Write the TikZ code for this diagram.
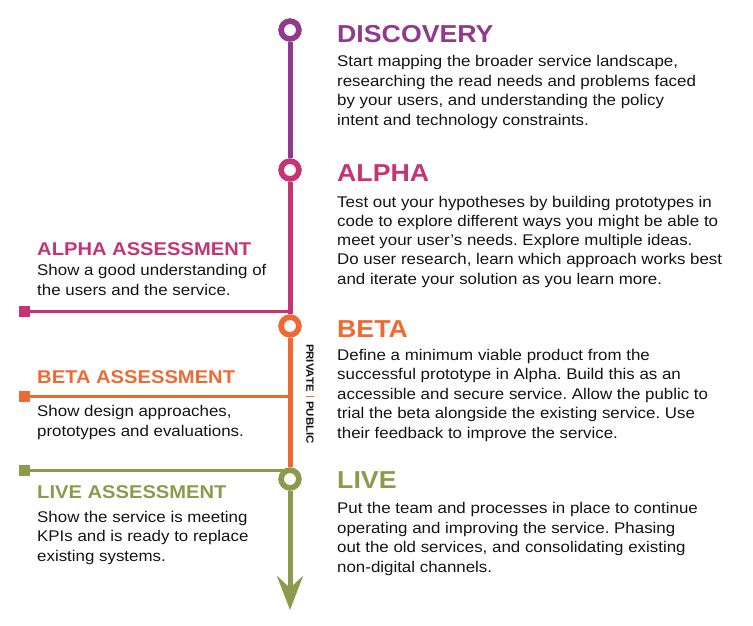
\documentclass[tikz,border=0pt]{standalone}
\usepackage{fontspec}
\setmainfont{Liberation Sans}[FakeStretch=1.09]
\usetikzlibrary{arrows.meta}
\frenchspacing

\definecolor{discC}{HTML}{8F3A8C}
\definecolor{alphaC}{HTML}{C73475}
\definecolor{betaC}{HTML}{EF6A32}
\definecolor{liveC}{HTML}{8C9B4B}
\definecolor{inkC}{HTML}{141414}

\tikzset{
  stage/.style={circle, draw=#1, fill=white, line width=5.5pt,
    minimum size=17.6pt, inner sep=0pt},
  gate/.style={rectangle, fill=#1, minimum size=11pt, inner sep=0pt},
  spine/.style={line width=5pt, draw=#1},
  branch/.style={line width=3pt, draw=#1},
  phasehead/.style={anchor=base west, inner sep=0pt, text=#1,
    font=\fontsize{24.5}{24.5}\selectfont\bfseries},
  gatehead/.style={anchor=base west, inner sep=0pt, text=#1,
    font=\fontsize{18.5}{18.5}\selectfont\bfseries},
  % multi-line blurbs are placed by the baseline of their last line
  blurb/.style={anchor=base west, inner sep=0pt, align=left, text=inkC,
    font=\fontsize{15.5}{19.5}\selectfont},
}

\begin{document}
\begin{tikzpicture}[x=1pt, y=-1pt]
\useasboundingbox (0,0) rectangle (753,625);

% stage markers on the timeline
\node[stage=discC]  (disc)  at (290,30)  {};
\node[stage=alphaC] (alpha) at (290,170) {};
\node[stage=betaC]  (beta)  at (290,326) {};
\node[stage=liveC]  (live)  at (290,479) {};
\coordinate (tip) at (290,610);

% joints where the assessment branches meet the timeline
\coordinate (jA) at (290,311);
\coordinate (jB) at (290,396);
\coordinate (jL) at (290,470);

% assessment gates
\node[gate=alphaC] (gA) at (24,311) {};
\node[gate=betaC]  (gB) at (24,396) {};
\node[gate=liveC]  (gL) at (24,470) {};

% timeline segments
\draw[spine=discC]  (disc) -- (alpha);
\draw[spine=alphaC] (alpha) -- (beta);
\draw[spine=betaC]  (beta) -- (live);
\draw[spine=liveC, -{Stealth[length=34pt, width=26pt, inset=12pt]}] (live) -- (tip);

% assessment branches
\draw[branch=alphaC] (gA) -- (jA);
\draw[branch=betaC]  (gB) -- (jB);
\draw[branch=liveC]  (gL) -- (jL);

% redraw markers above the segments
\node[stage=discC]  at (disc)  {};
\node[stage=alphaC] at (alpha) {};
\node[stage=betaC]  at (beta)  {};
\node[stage=liveC]  at (live)  {};

% phase descriptions
\node[phasehead=discC] (tDisc) at (337,42) {DISCOVERY};
\node[blurb] (bDisc) at (337,125) {Start mapping the broader service landscape,\\
researching the read needs and problems faced\\
by your users, and understanding the policy\\
intent and technology constraints.};

\node[phasehead=alphaC] (tAlpha) at (337,181) {ALPHA};
\node[blurb, font=\fontsize{15.5}{19.2}\selectfont] (bAlpha) at (337,284) {Test out your hypotheses by building prototypes in\\
code to explore different ways you might be able to\\
meet your user’s needs. Explore multiple ideas.\\
Do user research, learn which approach works best\\
and iterate your solution as you learn more.};

\node[phasehead=betaC] (tBeta) at (337,337) {BETA};
\node[blurb] (bBeta) at (337,438) {Define a minimum viable product from the\\
successful prototype in Alpha. Build this as an\\
accessible and secure service. Allow the public to\\
trial the beta alongside the existing service. Use\\
their feedback to improve the service.};

\node[phasehead=liveC] (tLive) at (337,488) {LIVE};
\node[blurb] (bLive) at (337,572) {Put the team and processes in place to continue\\
operating and improving the service. Phasing\\
out the old services, and consolidating existing\\
non-digital channels.};

% assessment descriptions
\node[gatehead=alphaC] (tgA) at (37,255) {ALPHA ASSESSMENT};
\node[blurb] (bgA) at (37,295) {Show a good understanding of\\
the users and the service.};

\node[gatehead=betaC] (tgB) at (37,383) {BETA ASSESSMENT};
\node[blurb] (bgB) at (37,436) {Show design approaches,\\
prototypes and evaluations.};

\node[gatehead=liveC] (tgL) at (37,498) {LIVE ASSESSMENT};
\node[blurb] (bgL) at (37,561) {Show the service is meeting\\
KPIs and is ready to replace\\
existing systems.};

% private / public divide
\node[rotate=-90, inner sep=0pt, text=inkC, font=\fontsize{10.5}{10.5}\selectfont\bfseries]
  (divide) at (310,394)
  {PRIVATE\hspace{4pt}\textcolor{betaC}{\rule[-0.6pt]{1.4pt}{8.6pt}}\hspace{4pt}PUBLIC};
\end{tikzpicture}
\end{document}
